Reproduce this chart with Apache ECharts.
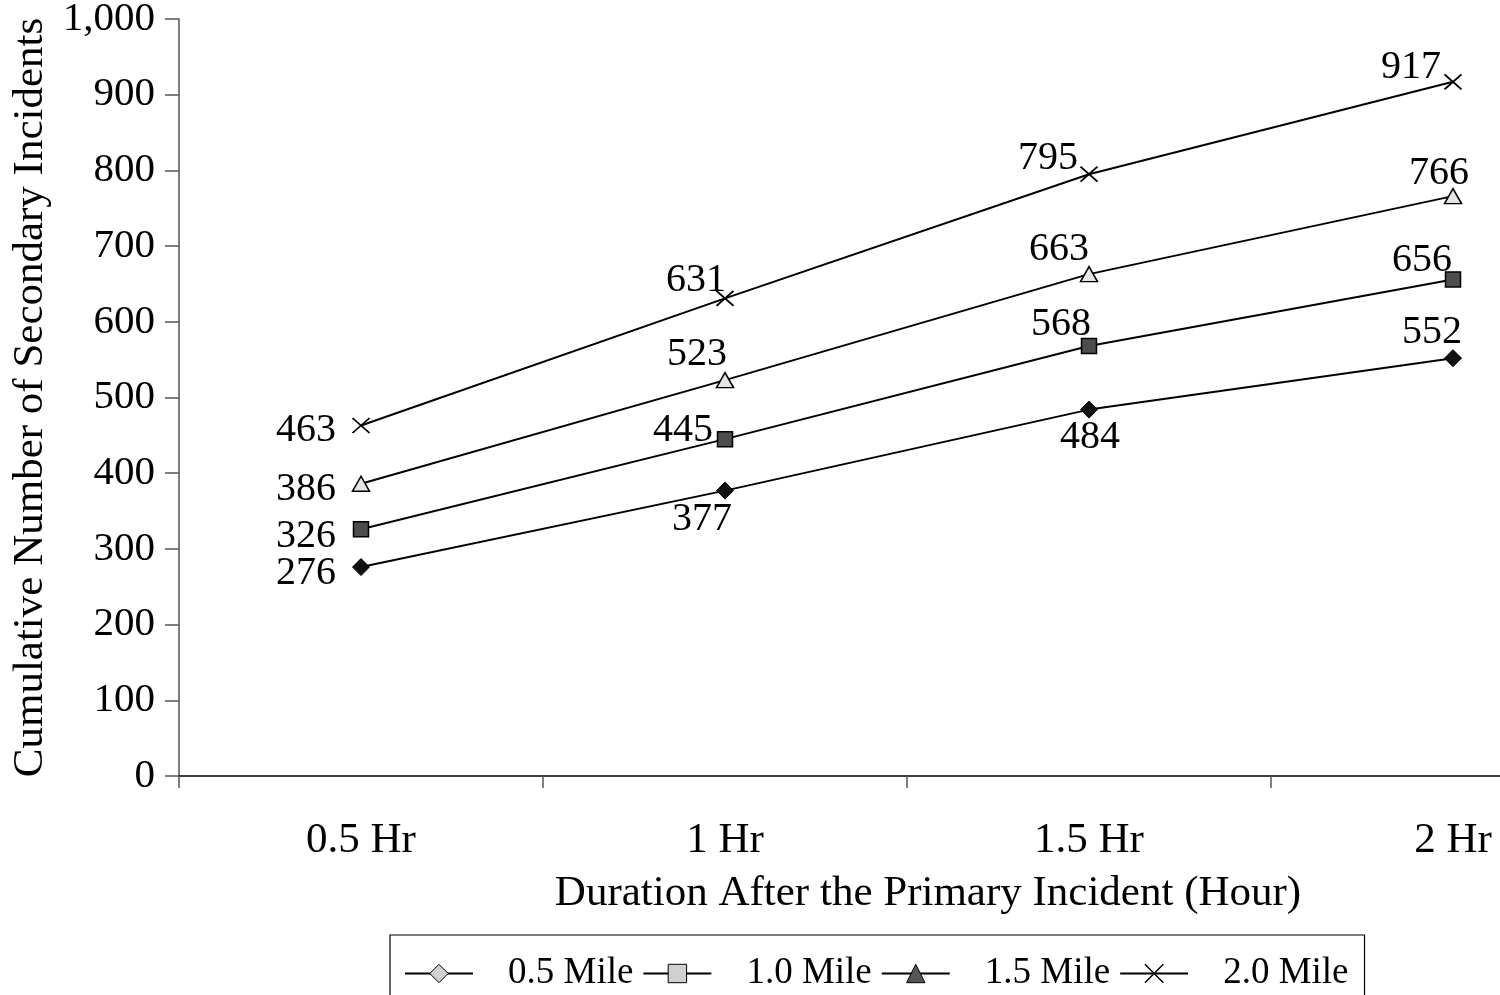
<!DOCTYPE html>
<html>
<head>
<meta charset="utf-8">
<script src="https://cdn.jsdelivr.net/npm/echarts@6/dist/echarts.min.js"></script>
<style>html,body{margin:0;padding:0;background:#fff}#c{width:1500px;height:995px}</style>
</head>
<body>
<div id="c"></div>
<script>
const categories = ['0.5 Hr', '1 Hr', '1.5 Hr', '2 Hr'];
const seriesNames = ['0.5 Mile', '1.0 Mile', '1.5 Mile', '2.0 Mile'];
const mile05 = [276, 377, 484, 552];
const mile10 = [326, 445, 568, 656];
const mile15 = [386, 523, 663, 766];
const mile20 = [463, 631, 795, 917];
const yTicks = [0, 100, 200, 300, 400, 500, 600, 700, 800, 900, 1000];

const FONT = '"Liberation Serif", "Times New Roman", serif';
// label offsets (style only)
const offsets = [
  [[-55, 6], [-23, 29], [1, 28], [-21, -26]],
  [[-55, 7], [-42, -9], [-28, -22], [-31, -19]],
  [[-55, 6], [-28, -26], [-30, -25], [-14, -23]],
  [[-55, 5], [-29, -18], [-41, -16], [-42, -14]]
];
const CROSS = 'path://M0,0L10,10M10,0L0,10';
const styles = [
  {symbol: 'diamond', size: [17, 17], item: {color: '#111', borderColor: '#000', borderWidth: 1}},
  {symbol: 'rect', size: [15, 15], item: {color: '#4d4d4d', borderColor: '#000', borderWidth: 1.5}},
  {symbol: 'triangle', size: [17, 15], item: {color: '#e6e6e6', borderColor: '#000', borderWidth: 1.5}},
  {symbol: CROSS, size: [17, 15], item: {color: 'none', borderColor: '#000', borderWidth: 1.8}}
];
const legendStyles = [
  {itemStyle: {color: '#d0d0d0', borderColor: '#000', borderWidth: 1}},
  {itemStyle: {color: '#d0d0d0', borderColor: '#000', borderWidth: 1}},
  {itemStyle: {color: '#555', borderColor: '#000', borderWidth: 1}},
  {itemStyle: {color: 'none', borderColor: '#000', borderWidth: 1.5}}
];
const values = [mile05, mile10, mile15, mile20];

const chart = echarts.init(document.getElementById('c'), null, {renderer: 'canvas'});
chart.setOption({
  animation: false,
  backgroundColor: '#fff',
  textStyle: {fontFamily: FONT, color: '#000'},
  grid: {left: 179, width: 1456, top: 19, bottom: 219, containLabel: false, outerBoundsMode: 'none'},
  legend: {
    data: seriesNames.map((n, i) => Object.assign({name: n}, legendStyles[i])),
    left: 390,
    top: 935,
    width: 990,
    padding: [20, 16, 40, 14],
    itemGap: 9,
    itemWidth: 68,
    itemHeight: 23,
    borderColor: '#000',
    borderWidth: 1.2,
    textStyle: {fontFamily: FONT, fontSize: 37, color: '#000', padding: [0, 0, 0, 30]}
  },
  xAxis: {
    type: 'category',
    data: categories,
    boundaryGap: true,
    name: 'Duration After the Primary Incident (Hour)',
    nameLocation: 'middle',
    nameGap: 96,
    nameTextStyle: {fontFamily: FONT, fontSize: 43, color: '#000', padding: [0, 0, 0, 42]},
    axisLine: {lineStyle: {color: '#000', width: 1.5}},
    axisTick: {show: true, length: 12, lineStyle: {color: '#555', width: 1.5}},
    axisLabel: {fontFamily: FONT, fontSize: 43, color: '#000', margin: 43},
    splitLine: {show: false}
  },
  yAxis: {
    type: 'value',
    min: 0,
    max: 1000,
    interval: 100,
    name: 'Cumulative Number of Secondary Incidents',
    nameLocation: 'middle',
    nameGap: 101,
    nameTextStyle: {fontFamily: FONT, fontSize: 43, color: '#000'},
    axisLine: {show: true, lineStyle: {color: '#555', width: 1.5}},
    axisTick: {show: true, length: 14, lineStyle: {color: '#555', width: 1.5}},
    axisLabel: {
      fontFamily: FONT, fontSize: 41, color: '#000', margin: 24,
      formatter: v => yTicks.indexOf(v) >= 0 ? v.toLocaleString('en-US') : ''
    },
    splitLine: {show: false}
  },
  series: seriesNames.map((name, s) => ({
    name: name,
    type: 'line',
    symbol: styles[s].symbol,
    symbolSize: styles[s].size,
    showAllSymbol: true,
    lineStyle: {color: '#000', width: 2},
    itemStyle: styles[s].item,
    z: 2 + s,
    label: {
      show: true,
      position: 'inside',
      fontFamily: FONT,
      fontSize: 40,
      color: '#000'
    },
    data: values[s].map((v, i) => ({value: v, label: {offset: offsets[s][i]}}))
  }))
});
</script>
</body>
</html>
